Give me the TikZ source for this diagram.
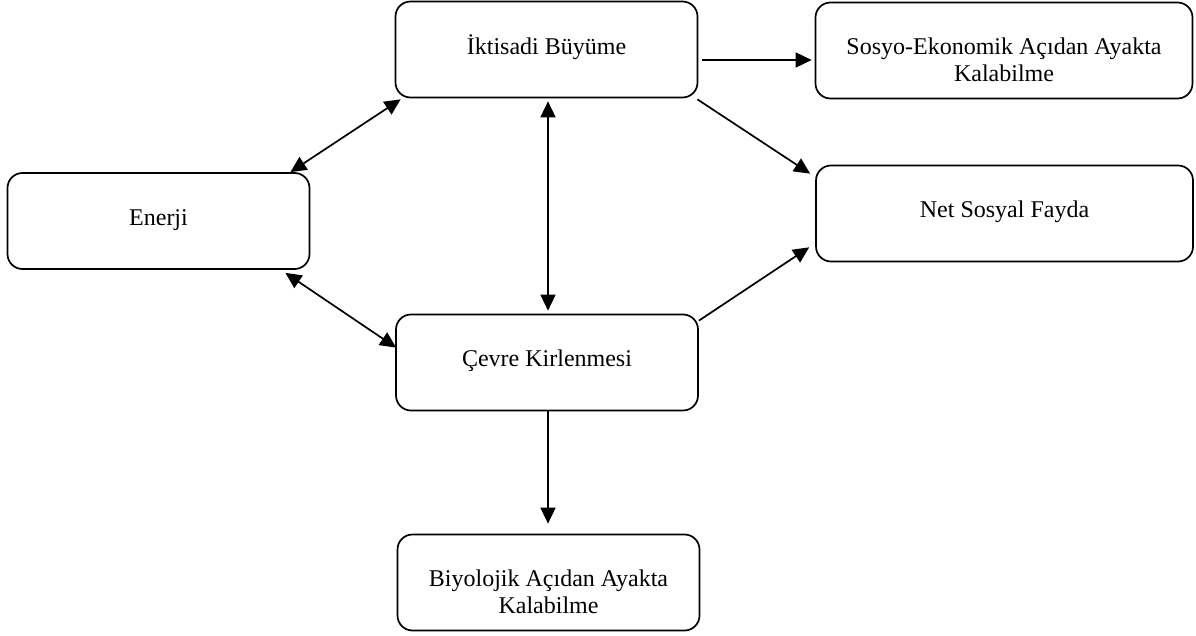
\documentclass[tikz,border=0pt]{standalone}
\usepackage{fontspec}
\setmainfont{Liberation Serif}
\usetikzlibrary{arrows.meta,calc}
\begin{document}
\begin{tikzpicture}[x=1pt,y=-1pt,
  box/.style={draw, line width=1.7pt, rounded corners=15pt, minimum height=96pt, inner sep=0pt},
  smallbox/.style={box, minimum width=302pt},
  bigbox/.style={box, minimum width=377pt},
  txt/.style={anchor=north, inner sep=0pt, align=center, font=\fontsize{24}{27}\selectfont},
  conn/.style={line width=1.7pt, -{Triangle[length=16pt,width=15pt]}},
  biconn/.style={line width=1.7pt, {Triangle[length=16pt,width=15pt]}-{Triangle[length=16pt,width=15pt]}}]
\useasboundingbox (0,0) rectangle (1196,636);
\node[smallbox] (ik) at (546.5,49.5) {};
\node[bigbox] (sosyo) at (1004,50.5) {};
\node[smallbox] (enerji) at (158.5,221) {};
\node[bigbox] (net) at (1004.5,213.5) {};
\node[smallbox] (cevre) at (547,362.5) {};
\node[smallbox] (biyo) at (548.5,582.5) {};
\node[txt] (ikt) at ($(ik.north)+(0,34)$) {\strut İktisadi Büyüme};
\node[txt] (sosyot) at ($(sosyo.north)+(0,34)$) {\strut Sosyo-Ekonomik Açıdan Ayakta\\Kalabilme};
\node[txt] (enerjit) at ($(enerji.north)+(0,34)$) {\strut Enerji};
\node[txt] (nett) at ($(net.north)+(0,34)$) {\strut Net Sosyal Fayda};
\node[txt] (cevret) at ($(cevre.north)+(0,34)$) {\strut Çevre Kirlenmesi};
\node[txt] (biyot) at ($(biyo.north)+(0,34)$) {\strut Biyolojik Açıdan Ayakta\\Kalabilme};
\draw[conn] ($(ik.east)+(4,10.5)$) -- ($(sosyo.west)+(-3,9.5)$);
\draw[conn] ($(ik.south east)+(-1,1)$) -- ($(net.north west)+(-5,9)$);
\draw[conn] ($(cevre.north east)+(0,7)$) -- ($(net.south west)+(-6,-15)$);
\draw[biconn] ($(enerji.north east)+(-20,0)$) -- ($(ik.south west)+(6,1)$);
\draw[biconn] ($(enerji.south east)+(-25,3)$) -- ($(cevre.north west)+(1,34)$);
\draw[biconn] ($(ik.south)+(1.5,3)$) -- ($(cevre.north)+(1,-3)$);
\draw[conn] ($(cevre.south)+(1,0)$) -- ($(biyo.north)+(-0.5,-10)$);
\end{tikzpicture}
\end{document}
